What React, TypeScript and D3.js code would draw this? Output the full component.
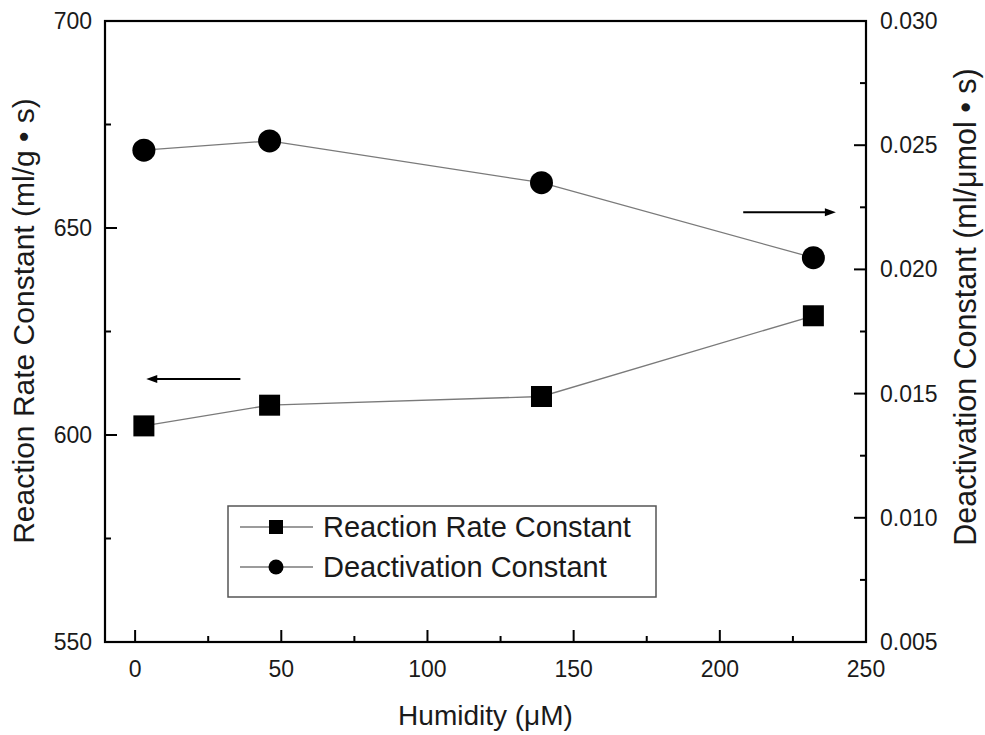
import React from "react";
import * as d3 from "d3";

// Humidity levels (μM) and measured constants at each level
const humidity = [3, 46, 139, 232];
const reactionRate = [602.2, 607.2, 609.3, 628.8];
const deactivation = [0.0248, 0.02517, 0.02349, 0.02047];

const xTicks = [0, 50, 100, 150, 200, 250];
const yLeftTicks = [550, 600, 650, 700];
const yRightTicks = [0.005, 0.01, 0.015, 0.02, 0.025, 0.03];

const legendLabels = ["Reaction Rate Constant", "Deactivation Constant"];

const W = 985;
const H = 735;
const plot = { left: 105, right: 866, top: 21, bottom: 642 };
const FONT = "'Liberation Sans', Arial, Helvetica, sans-serif";

export default function App() {
  const x = d3.scaleLinear().domain([-10.3, 250]).range([plot.left, plot.right]);
  const yL = d3.scaleLinear().domain([550, 700]).range([plot.bottom, plot.top]);
  const yR = d3.scaleLinear().domain([0.005, 0.03]).range([plot.bottom, plot.top]);

  const rateLine = d3
    .line<number>()
    .x((_, i) => x(humidity[i]))
    .y((d) => yL(d));
  const deactLine = d3
    .line<number>()
    .x((_, i) => x(humidity[i]))
    .y((d) => yR(d));

  const xMinor = d3.range(25, 250, 50);
  const yLMinor = d3.range(575, 700, 50);
  const yRMinor = d3.range(0.0075, 0.03, 0.005);

  const major = 12;
  const minor = 6;
  const sq = 21;
  const r = 11.5;

  const arrowHead = (tipX: number, tipY: number, dir: number) => {
    const len = 11;
    const half = 4;
    return `M${tipX},${tipY} L${tipX - dir * len},${tipY - half} L${tipX - dir * len},${tipY + half} Z`;
  };

  // Annotation arrows placed in data coordinates
  const leftArrow = { y: 613.5, from: 36, to: 3.8 };
  const rightArrow = { y: 0.0223, from: 208, to: 239.7 };

  const legend = { x: 228, y: 506, w: 428, h: 91 };

  return (
    <svg
      width={W}
      height={H}
      style={{ position: "absolute", left: 0, top: 0, background: "#fff" }}
      fontFamily={FONT}
    >
      <rect x={0} y={0} width={W} height={H} fill="#fff" />

      {/* connecting lines */}
      <path d={rateLine(reactionRate) || ""} fill="none" stroke="#7a7a7a" strokeWidth={1.3} />
      <path d={deactLine(deactivation) || ""} fill="none" stroke="#7a7a7a" strokeWidth={1.3} />

      {/* markers */}
      {reactionRate.map((v, i) => (
        <rect
          key={"s" + i}
          x={x(humidity[i]) - sq / 2}
          y={yL(v) - sq / 2}
          width={sq}
          height={sq}
          fill="#000"
        />
      ))}
      {deactivation.map((v, i) => (
        <circle key={"c" + i} cx={x(humidity[i])} cy={yR(v)} r={r} fill="#000" />
      ))}

      {/* arrows showing which axis each series belongs to */}
      <g stroke="#000" strokeWidth={2}>
        <line x1={x(leftArrow.from)} x2={x(leftArrow.to) + 8} y1={yL(leftArrow.y)} y2={yL(leftArrow.y)} />
        <line x1={x(rightArrow.from)} x2={x(rightArrow.to) - 8} y1={yR(rightArrow.y)} y2={yR(rightArrow.y)} />
      </g>
      <path d={arrowHead(x(leftArrow.to), yL(leftArrow.y), -1)} fill="#000" />
      <path d={arrowHead(x(rightArrow.to), yR(rightArrow.y), 1)} fill="#000" />

      {/* frame */}
      <rect
        x={plot.left}
        y={plot.top}
        width={plot.right - plot.left}
        height={plot.bottom - plot.top}
        fill="none"
        stroke="#000"
        strokeWidth={2.2}
      />

      {/* ticks */}
      <g stroke="#000" strokeWidth={2}>
        {xTicks.map((t) => (
          <line key={"xt" + t} x1={x(t)} x2={x(t)} y1={plot.bottom} y2={plot.bottom - major} />
        ))}
        {xMinor.map((t) => (
          <line key={"xm" + t} x1={x(t)} x2={x(t)} y1={plot.bottom} y2={plot.bottom - minor} />
        ))}
        {yLeftTicks.map((t) => (
          <line key={"yl" + t} x1={plot.left} x2={plot.left + major} y1={yL(t)} y2={yL(t)} />
        ))}
        {yLMinor.map((t) => (
          <line key={"ylm" + t} x1={plot.left} x2={plot.left + minor} y1={yL(t)} y2={yL(t)} />
        ))}
        {yRightTicks.map((t) => (
          <line key={"yr" + t} x1={plot.right} x2={plot.right - major} y1={yR(t)} y2={yR(t)} />
        ))}
        {yRMinor.map((t) => (
          <line key={"yrm" + t} x1={plot.right} x2={plot.right - minor} y1={yR(t)} y2={yR(t)} />
        ))}
      </g>

      {/* tick labels */}
      <g fontSize={23} fill="#1a1a1a">
        {xTicks.map((t) => (
          <text key={"xl" + t} x={x(t)} y={plot.bottom + 35} textAnchor="middle">
            {t}
          </text>
        ))}
        {yLeftTicks.map((t) => (
          <text key={"yll" + t} x={plot.left - 13} y={yL(t)} dy="0.35em" textAnchor="end">
            {t}
          </text>
        ))}
        {yRightTicks.map((t) => (
          <text key={"yrl" + t} x={plot.right + 14} y={yR(t)} dy="0.35em" textAnchor="start">
            {d3.format(".3f")(t)}
          </text>
        ))}
      </g>

      {/* axis titles */}
      <g fill="#1a1a1a">
        <text x={(plot.left + plot.right) / 2} y={725} textAnchor="middle" fontSize={28}>
          Humidity (μM)
        </text>
        <text transform={`translate(34,321) rotate(-90)`} textAnchor="middle" fontSize={30}>
          Reaction Rate Constant (ml/g • s)
        </text>
        <text transform={`translate(976,307) rotate(-90)`} textAnchor="middle" fontSize={30.5}>
          Deactivation Constant (ml/μmol • s)
        </text>
      </g>

      {/* legend */}
      <g>
        <rect
          x={legend.x}
          y={legend.y}
          width={legend.w}
          height={legend.h}
          fill="#fff"
          stroke="#555"
          strokeWidth={1.5}
        />
        {legendLabels.map((label, i) => {
          const cy = legend.y + 21 + i * 40;
          return (
            <g key={label}>
              <line x1={legend.x + 12} x2={legend.x + 85} y1={cy} y2={cy} stroke="#7a7a7a" strokeWidth={1.3} />
              {i === 0 ? (
                <rect x={legend.x + 48 - 7} y={cy - 7} width={14} height={14} fill="#000" />
              ) : (
                <circle cx={legend.x + 48} cy={cy} r={7.5} fill="#000" />
              )}
              <text x={legend.x + 95} y={cy + 10} fontSize={29} fill="#1a1a1a">
                {label}
              </text>
            </g>
          );
        })}
      </g>
    </svg>
  );
}
